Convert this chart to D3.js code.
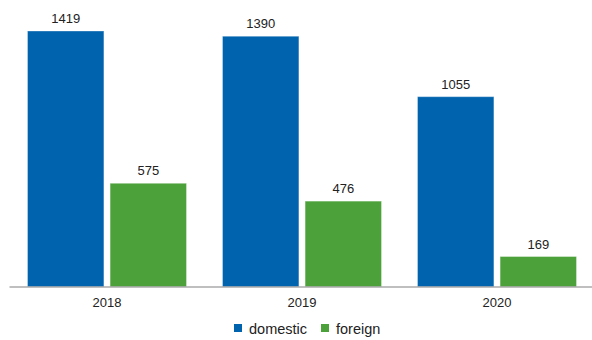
<!DOCTYPE html>
<html><head><meta charset="utf-8">
<script src="https://cdn.jsdelivr.net/npm/d3@7"></script>
<style>body{margin:0;background:#fff}text{font-family:"Liberation Sans",Arial,sans-serif}</style>
</head><body><svg id="c" width="592" height="340"></svg>
<script>
const years = ["2018", "2019", "2020"];
const seriesNames = ["domestic", "foreign"];
const domestic = [1419, 1390, 1055];
const foreign = [575, 476, 169];
const colors = ["#0063ae", "#4ca13a"];

const svg = d3.select("#c");
const baseY = 287;
const x = d3.scaleBand().domain(years).range([9.5, 594.5]).paddingInner(0).paddingOuter(0);
const y = d3.scaleLinear().domain([0, 1419]).range([baseY, 31]);
const inner = d3.scaleBand().domain(seriesNames).range([18, 177]).paddingInner(0.075);
const values = [domestic, foreign];

years.forEach((yr, i) => {
  seriesNames.forEach((s, j) => {
    const v = values[j][i];
    const bx = x(yr) + inner(s);
    svg.append("rect").attr("x", bx).attr("y", y(v)).attr("width", inner.bandwidth())
      .attr("height", baseY - y(v)).attr("fill", colors[j])
      .attr("stroke", "rgba(255,255,255,0.35)").attr("stroke-width", 1);
    svg.append("text").attr("x", bx + inner.bandwidth() / 2).attr("y", y(v) - 8)
      .attr("text-anchor", "middle").attr("font-size", 13).attr("fill", "#222").text(v);
  });
});

const axis = svg.append("g").attr("transform", `translate(0,${baseY})`)
  .call(d3.axisBottom(x).tickSize(0).tickPadding(11));
axis.select(".domain").attr("stroke", "#aaa").attr("stroke-width", 1.5).attr("d", "M9.5,0H594.5");
axis.selectAll("text").attr("font-size", 13).attr("fill", "#222")
  .style("font-family", '"Liberation Sans",Arial,sans-serif');

const legend = svg.append("g").attr("transform", "translate(234,329)");
const lx = [0, 87];
seriesNames.forEach((s, j) => {
  legend.append("rect").attr("x", lx[j]).attr("y", -5).attr("width", 8).attr("height", 8).attr("fill", colors[j]);
  legend.append("text").attr("x", lx[j] + 15).attr("y", 4.5).attr("font-size", 14.5).attr("fill", "#222").text(s);
});
</script></body></html>
